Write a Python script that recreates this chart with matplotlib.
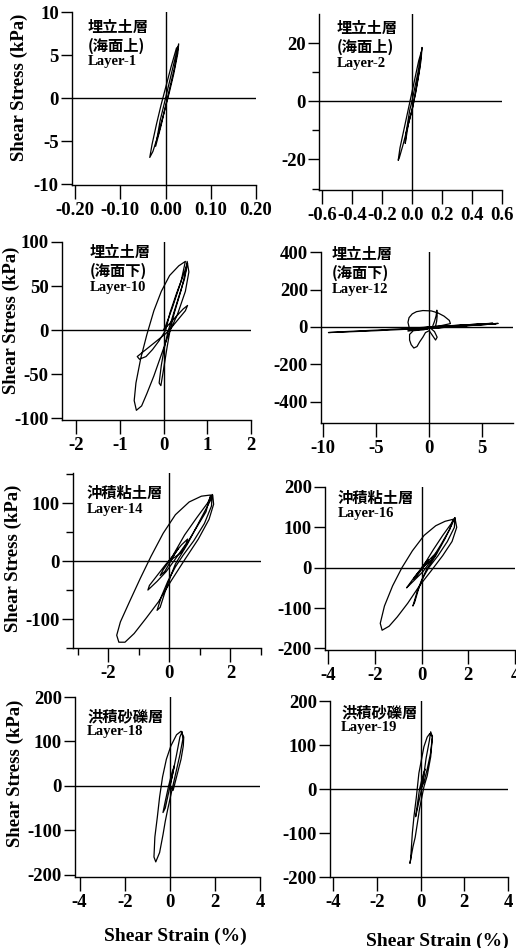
import matplotlib
matplotlib.use("Agg")
import matplotlib.pyplot as plt

plt.rcParams["axes.unicode_minus"] = False
plt.rcParams["font.family"] = ["Liberation Serif", "Noto Sans CJK JP"]

W, H = 516, 948

layers = ["Layer-1", "Layer-2", "Layer-10", "Layer-12", "Layer-14", "Layer-16", "Layer-18", "Layer-19"]
soil_names = [["埋立土層", "(海面上)"], ["埋立土層", "(海面上)"],
              ["埋立土層", "(海面下)"], ["埋立土層", "(海面下)"],
              ["沖積粘土層"], ["沖積粘土層"], ["洪積砂礫層"], ["洪積砂礫層"]]

# hysteresis loops, shear strain (%) vs shear stress (kPa)
strain_1 = [0.000, 0.010, 0.020, 0.029, 0.027, 0.018, 0.008, -0.004, -0.016, -0.028, -0.035, -0.030,
            -0.020, -0.010, 0.000, 0.012, 0.024, 0.028, 0.020, 0.005, -0.010, -0.022, -0.012, 0.000]
stress_1 = [0.0, 2.2, 4.4, 6.3, 5.2, 2.8, 0.6, -1.8, -4.2, -6.2, -6.9, -5.4,
            -3.0, -0.8, 1.2, 3.6, 5.8, 6.0, 3.6, 0.2, -3.2, -5.6, -2.6, 0.0]

strain_2 = [0.000, 0.020, 0.040, 0.060, 0.067, 0.060, 0.045, 0.025, 0.000, -0.030, -0.060, -0.085, -0.092, -0.080,
            -0.055, -0.030, -0.005, 0.020, 0.045, 0.062, 0.050, 0.030, 0.005, -0.025, -0.045, -0.040, -0.015, 0.000]
stress_2 = [0, 5, 10, 16, 18.5, 14, 9, 3, -3, -9, -15, -19.5, -20.3, -16,
            -10, -4, 2, 8, 14, 17, 11, 5, -2, -8, -14.5, -11, -3, 0]

strain_10 = [0.00, 0.15, 0.30, 0.45, 0.55, 0.50, 0.35, 0.20, 0.05,
             -0.10, -0.30, -0.45, -0.60, -0.55, -0.40, -0.25, -0.10, 0.05,
             0.15, 0.30, 0.45, 0.55, 0.48, 0.35, 0.20, 0.10,
             0.02, -0.05, -0.10, -0.06, 0.00, 0.08, 0.15,
             0.25, 0.40, 0.50, 0.54, 0.58, 0.50, 0.32, 0.12, -0.05, -0.22, -0.38, -0.50, -0.62,
             -0.67, -0.63, -0.52, -0.38, -0.22, -0.05, 0.14, 0.35, 0.50,
             0.40, 0.20, 0.05, 0.00]
stress_10 = [0, 8, 16, 24, 28, 22, 13, 4, -4,
             -10, -18, -24, -30, -33, -30, -22, -12, 0,
             20, 42, 62, 76, 58, 38, 14, -2,
             -20, -40, -60, -63, -45, -20, 0,
             20, 45, 65, 78, 66, 44, 18, -4, -28, -52, -72, -86, -91,
             -80, -60, -32, -5, 22, 44, 62, 73, 78,
             55, 25, 5, 0]

strain_12 = [0.0, -2.0, -5.0, -8.0, -9.5, -8.0, -5.0, -2.0, 0.0, 2.0, 4.0, 6.5, 5.5, 3.0, 1.0, -1.0, -2.0,
             0.0, 2.0, 4.5, 6.0, 4.5, 2.0, 0.0, -1.8, -1.0, 1.0, 3.0, 5.5, 3.0, 0.5, -1.5,
             0.0, 2.5, 5.0, 6.3, 4.0, 1.5, -0.5, -2.0,
             -1.9, -2.0, -1.9, -1.6, -1.2, -0.6, 0.2, 0.8, 1.4, 1.9, 2.0, 1.2, 0.3,
             0.5, 0.65, 0.72, 0.75, 0.7, 0.6,
             -0.5, -1.5, -1.85, -1.85, -1.7, -1.45, -1.15, -0.9, -0.6, -0.35, 0.0,
             0.3, 0.6, 0.75, 0.5, 0.2, 0.0]
stress_12 = [0, -8, -17, -25, -30, -27, -20, -12, -6, 2, 10, 19, 16, 8, 0, -8, -12,
             -2, 6, 15, 20, 12, 2, -8, -18, -6, 4, 10, 18, 5, -6, -15,
             -4, 4, 12, 17, 8, -2, -10, -22,
             0, 25, 50, 70, 82, 88, 86, 76, 58, 35, 18, 8, 0,
             30, 60, 90, 60, 30, 5,
             -15, -20, -40, -70, -95, -113, -105, -80, -55, -30, -20,
             -45, -70, -55, -25, -10, 0]

strain_14 = [0.00, 0.15, 0.30, 0.20, 0.00, -0.20, -0.30, -0.15, 0.05,
             0.20, 0.40, 0.60, 0.55, 0.35, 0.15, -0.10, -0.40, -0.70, -0.65, -0.40, -0.15, 0.10,
             0.50, 0.90, 1.25, 1.40, 1.38, 1.15, 0.80, 0.45, 0.20,
             -0.05, -0.25, -0.40, -0.30, -0.15, 0.05, 0.20,
             0.60, 1.00, 1.35, 1.42, 1.45, 1.30, 0.95, 0.50, 0.05, -0.35, -0.75, -1.15, -1.45, -1.65,
             -1.72, -1.60, -1.30, -0.95, -0.60, -0.20, 0.20, 0.65, 1.05, 1.35,
             1.20, 0.80, 0.40, 0.00]
stress_14 = [0, 10, 22, 15, 0, -15, -25, -18, 0,
             15, 28, 38, 30, 15, 0, -18, -35, -50, -42, -25, -8, 8,
             45, 75, 100, 115, 95, 65, 35, 10, -10,
             -35, -60, -85, -80, -55, -25, -5,
             30, 70, 105, 114, 98, 72, 38, 2, -35, -70, -98, -125, -140, -140,
             -128, -105, -70, -30, 8, 48, 80, 102, 112, 114,
             85, 50, 15, 0]

strain_16 = [0.00, 0.15, 0.30, 0.15, 0.00, -0.20, -0.35, -0.20, 0.05,
             0.30, 0.50, 0.64, 0.55, 0.30, 0.05, -0.30, -0.65, -0.55, -0.30, 0.00,
             0.50, 0.90, 1.30, 1.42, 1.40, 1.10, 0.70, 0.30,
             0.00, -0.20, -0.38, -0.30, -0.15, 0.05, 0.20,
             0.60, 1.00, 1.30, 1.42, 1.50, 1.30, 0.90, 0.40, -0.10, -0.60, -1.05, -1.40, -1.70,
             -1.78, -1.60, -1.25, -0.85, -0.40, 0.10, 0.60, 1.00, 1.35,
             1.20, 0.80, 0.40, 0.00]
stress_16 = [0, 10, 20, 12, 0, -15, -28, -20, 0,
             18, 30, 37, 28, 10, -10, -30, -50, -42, -22, -2,
             45, 80, 112, 124, 100, 65, 30, 0,
             -30, -60, -95, -85, -55, -25, -5,
             30, 72, 108, 124, 100, 65, 30, -8, -45, -88, -122, -145, -155,
             -138, -95, -45, 0, 42, 80, 104, 115, 120,
             95, 55, 18, 0]

strain_18 = [0.00, 0.10, 0.20, 0.10, -0.05, -0.20, -0.30, -0.20, -0.05, 0.10,
             0.30, 0.45, 0.55, 0.58, 0.45, 0.25, 0.05, -0.10, -0.20,
             -0.30, -0.45, -0.62, -0.70, -0.66, -0.55, -0.45, -0.32, -0.15, 0.05, 0.30, 0.50, 0.62,
             0.60, 0.50, 0.30, 0.15, 0.00]
stress_18 = [0, 20, 45, 30, 0, -35, -60, -50, -15, 20,
             70, 110, 122, 105, 70, 25, -20, -55, -80,
             -110, -150, -171, -160, -115, -70, -25, 20, 60, 90, 115, 123, 110,
             90, 60, 20, -10, 0]

strain_19 = [0.00, 0.10, 0.20, 0.10, -0.05, -0.15, -0.23, -0.15, 0.00, 0.10,
             0.25, 0.40, 0.46, 0.54, 0.46, 0.30, 0.15, -0.05, -0.15,
             -0.25, -0.35, -0.49, -0.46, -0.38, -0.30, -0.20, -0.08, 0.05, 0.15, 0.30, 0.42, 0.54,
             0.45, 0.30, 0.15, 0.00]
stress_19 = [0, 20, 45, 30, 0, -35, -63, -45, -10, 15,
             70, 110, 130, 119, 73, 30, 5, -45, -78,
             -110, -131, -169, -161, -100, -60, -20, 36, 70, 96, 118, 126, 119,
             80, 45, 15, 0]

strains = [strain_1, strain_2, strain_10, strain_12, strain_14, strain_16, strain_18, strain_19]
stresses = [stress_1, stress_2, stress_10, stress_12, stress_14, stress_16, stress_18, stress_19]

# tick values and labels for each panel
xticks = [[-0.2, -0.1, 0.0, 0.1, 0.2],
          [-0.6, -0.4, -0.2, 0.0, 0.2, 0.4, 0.6],
          [-2, -1, 0, 1, 2],
          [-10, -5, 0, 5],
          [-2, 0, 2],
          [-4, -2, 0, 2, 4],
          [-4, -2, 0, 2, 4],
          [-4, -2, 0, 2, 4]]
xticklabels = [["-0.20", "-0.10", "0.00", "0.10", "0.20"],
               ["-0.6", "-0.4", "-0.2", "0.0", "0.2", "0.4", "0.6"],
               ["-2", "-1", "0", "1", "2"],
               ["-10", "-5", "0", "5"],
               ["-2", "0", "2"],
               ["-4", "-2", "0", "2", "4"],
               ["-4", "-2", "0", "2", "4"],
               ["-4", "-2", "0", "2", "4"]]
xminor = [[], [], [], [], [-3, -1, 1, 3], [], [], []]
yticks = [[-10, -5, 0, 5, 10],
          [-20, 0, 20],
          [-100, -50, 0, 50, 100],
          [-400, -200, 0, 200, 400],
          [-100, 0, 100],
          [-200, -100, 0, 100, 200],
          [-200, -100, 0, 100, 200],
          [-200, -100, 0, 100, 200]]
yminor = [[], [-30, -10, 10], [], [], [-150, -50, 50, 150], [], [], []]

# axes boxes in pixels: left, right, top, bottom
boxes = [(72, 256, 12, 185), (319, 502, 14, 190),
         (62, 251, 242, 420), (321, 513, 252, 423),
         (73, 261, 473, 648), (325, 515, 487, 650),
         (75, 260, 697, 877), (330, 508, 701, 877)]
xlims = [(-0.207, 0.20), (-0.62, 0.60), (-2.32, 2.0), (-10.2, 7.9),
         (-3.15, 3.0), (-4.15, 4.0), (-4.2, 4.0), (-4.15, 4.0)]
ylims = [(-10.1, 10), (-30.5, 30), (-102, 100), (-515, 402),
         (-150, 152), (-204, 200), (-205, 200), (-200, 200)]
# label anchor (left x, first line centre y) in pixels
text_pos = [(88, 27), (337, 28), (90, 252), (332, 254),
            (87, 493), (338, 498), (87, 716), (341, 712)]

fig = plt.figure(figsize=(W / 100, H / 100), dpi=100)

for i in range(8):
    l, r, t, b = boxes[i]
    ax = fig.add_axes([l / W, 1 - b / H, (r - l) / W, (b - t) / H])
    ax.plot(strains[i], stresses[i], color="black", lw=0.9)
    ax.axhline(0, color="black", lw=1.0)
    ax.axvline(0, color="black", lw=1.0)
    ax.set_xlim(xlims[i])
    ax.set_ylim(ylims[i])
    for s in ["top", "right"]:
        ax.spines[s].set_visible(False)
    for s in ["left", "bottom"]:
        ax.spines[s].set_linewidth(1.0)
    ax.set_xticks(xticks[i])
    ax.set_xticklabels(xticklabels[i])
    ax.set_yticks(yticks[i])
    ax.set_yticklabels([str(v) for v in yticks[i]])
    ax.set_xticks(xminor[i], minor=True)
    ax.set_yticks(yminor[i], minor=True)
    ax.tick_params(axis="x", which="major", direction="out", length=10, width=1.0, pad=2)
    ax.tick_params(axis="y", which="major", direction="out", length=8, width=1.0, pad=1.5)
    ax.tick_params(which="minor", direction="out", length=5, width=1.0)
    for lab in ax.get_xticklabels() + ax.get_yticklabels():
        lab.set_fontsize(13.5)
        lab.set_fontweight("bold")

    tx, ty = text_pos[i]
    for j, line in enumerate(soil_names[i]):
        fig.text(tx / W, 1 - (ty + 19 * j) / H, line, family=["Noto Sans CJK JP"],
                 fontsize=11, fontweight="bold", ha="left", va="center")
    ly = ty + 19 * len(soil_names[i]) - 3
    fig.text(tx / W, 1 - ly / H, layers[i], fontsize=10.5, fontweight="bold",
             ha="left", va="center")

# shared axis titles
for x, y in [(19, 87), (11, 320), (13, 558), (15, 773)]:
    fig.text(x / W, 1 - y / H, "Shear Stress (kPa)", rotation=90, fontsize=13.5,
             fontweight="bold", ha="center", va="center")
for x, y in [(175, 936), (437, 941)]:
    fig.text(x / W, 1 - y / H, "Shear Strain (%)", fontsize=14,
             fontweight="bold", ha="center", va="center")

fig.savefig("out.png", dpi=100)
